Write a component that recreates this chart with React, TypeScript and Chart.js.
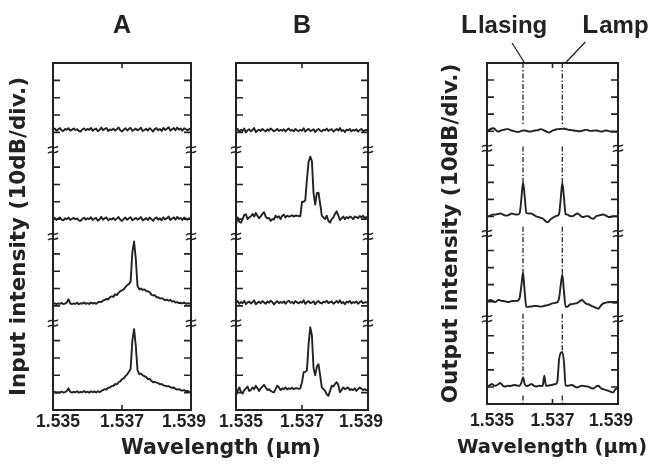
import React, { useEffect, useRef } from "react";
import { Chart, registerables } from "chart.js";

Chart.register(...registerables);

const INK = "#222222";
const TICK_FONT = "'Liberation Sans', Arial, sans-serif";
const TITLE_FONT = "'DejaVu Sans', sans-serif";

// wavelength samples (µm)
const wavelengths = [
  1.53500, 1.53505, 1.53510, 1.53515, 1.53520, 1.53525, 1.53530, 1.53535, 1.53540, 1.53545,
  1.53550, 1.53555, 1.53560, 1.53565, 1.53570, 1.53575, 1.53580, 1.53585, 1.53590, 1.53595,
  1.53600, 1.53605, 1.53610, 1.53615, 1.53620, 1.53625, 1.53630, 1.53635, 1.53640, 1.53645,
  1.53650, 1.53655, 1.53660, 1.53665, 1.53670, 1.53675, 1.53680, 1.53685, 1.53690, 1.53695,
  1.53700, 1.53705, 1.53710, 1.53715, 1.53720, 1.53725, 1.53730, 1.53735, 1.53740, 1.53745,
  1.53750, 1.53755, 1.53760, 1.53765, 1.53770, 1.53775, 1.53780, 1.53785, 1.53790, 1.53795,
  1.53800, 1.53805, 1.53810, 1.53815, 1.53820, 1.53825, 1.53830, 1.53835, 1.53840, 1.53845,
  1.53850, 1.53855, 1.53860, 1.53865, 1.53870, 1.53875, 1.53880, 1.53885, 1.53890, 1.53895,
  1.53900,
];

const xTickValues = [1.535, 1.537, 1.539];
const breakLevels = [5, 10, 15];
const stackOffsets = [15, 10, 5, 0]; // divisions (10 dB each), top trace first

// Panel A (input), divisions above each sub-panel floor
const traceA1 = [
  1.15, 1.22, 1.10, 1.18, 1.25, 1.12, 1.08, 1.20, 1.15, 1.24,
  1.10, 1.16, 1.22, 1.14, 1.18, 1.08, 1.05, 1.17, 1.23, 1.12,
  1.20, 1.15, 1.26, 1.10, 1.18, 1.22, 1.06, 1.14, 1.28, 1.12,
  1.20, 1.25, 1.08, 1.17, 1.13, 1.22, 1.10, 1.18, 1.28, 1.12,
  1.05, 1.16, 1.24, 1.11, 1.20, 1.26, 1.09, 1.15, 1.22, 1.12,
  1.18, 1.27, 1.08, 1.14, 1.21, 1.10, 1.24, 1.16, 1.05, 1.19,
  1.25, 1.12, 1.20, 1.08, 1.26, 1.14, 1.20, 1.30, 1.10, 1.18,
  1.25, 1.12, 1.28, 1.16, 1.22, 1.10, 1.24, 1.18, 1.12, 1.20,
  1.15,
];
const traceA2 = [
  1.00, 1.08, 0.95, 1.03, 1.10, 0.97, 0.93, 1.05, 1.00, 1.09,
  0.95, 1.02, 1.07, 0.99, 1.04, 0.93, 0.90, 1.02, 1.08, 0.97,
  1.05, 1.00, 1.11, 0.95, 1.03, 1.07, 0.91, 0.99, 1.13, 0.97,
  1.05, 1.10, 0.93, 1.02, 0.98, 1.07, 0.95, 1.03, 1.13, 0.97,
  0.90, 1.01, 1.09, 0.96, 1.05, 1.11, 0.94, 1.00, 1.07, 0.97,
  1.03, 1.12, 0.93, 0.99, 1.06, 0.95, 1.09, 1.01, 0.90, 1.04,
  1.10, 0.97, 1.05, 0.93, 1.11, 0.99, 1.05, 1.15, 0.95, 1.03,
  1.10, 0.97, 1.13, 1.01, 1.07, 0.95, 1.09, 1.03, 0.97, 1.05,
  1.00,
];
const traceA3 = [
  1.12, 1.15, 1.10, 1.14, 1.12, 1.17, 1.11, 1.13, 1.20, 1.38,
  1.15, 1.10, 1.14, 1.12, 1.18, 1.10, 1.15, 1.13, 1.20, 1.12,
  1.16, 1.11, 1.20, 1.13, 1.18, 1.12, 1.20, 1.24, 1.22, 1.30,
  1.35, 1.40, 1.38, 1.50, 1.55, 1.52, 1.67, 1.62, 1.75, 1.85,
  1.90, 1.95, 2.08, 2.20, 2.25, 2.40, 4.10, 4.71, 3.70, 2.15,
  1.95, 2.00, 1.92, 1.95, 1.86, 1.84, 1.80, 1.65, 1.60, 1.62,
  1.49, 1.50, 1.42, 1.45, 1.40, 1.32, 1.37, 1.30, 1.35, 1.25,
  1.28, 1.20, 1.22, 1.16, 1.18, 1.14, 1.20, 1.12, 1.15, 1.14,
  1.15,
];
const traceA4 = [
  1.02, 1.05, 0.99, 1.03, 1.00, 1.06, 1.01, 1.03, 1.10, 1.25,
  1.04, 1.00, 1.05, 1.02, 1.08, 1.00, 1.04, 1.02, 1.09, 1.01,
  1.06, 1.00, 1.08, 1.02, 1.07, 1.01, 1.08, 1.03, 1.10, 1.15,
  1.20, 1.18, 1.28, 1.30, 1.38, 1.40, 1.50, 1.48, 1.60, 1.65,
  1.78, 1.82, 1.95, 2.05, 2.20, 2.36, 4.00, 4.66, 3.70, 2.30,
  2.07, 2.10, 2.00, 1.95, 1.90, 1.78, 1.80, 1.68, 1.60, 1.62,
  1.58, 1.55, 1.48, 1.50, 1.42, 1.40, 1.36, 1.38, 1.32, 1.28,
  1.30, 1.22, 1.18, 1.20, 1.14, 1.12, 1.15, 1.09, 1.10, 1.06,
  1.05,
];

// Panel B (input)
const traceB1 = [
  1.10, 1.20, 1.05, 1.15, 1.08, 1.22, 1.00, 1.12, 1.18, 1.06,
  1.14, 1.25, 1.02, 1.10, 1.16, 1.08, 1.20, 1.12, 1.05, 1.18,
  1.10, 1.22, 1.15, 1.06, 1.12, 1.20, 1.08, 1.14, 1.10, 1.18,
  1.05, 1.16, 1.22, 1.10, 1.14, 1.06, 1.20, 1.12, 1.08, 1.15,
  1.10, 1.24, 1.05, 1.15, 1.20, 1.08, 1.12, 1.18, 1.02, 1.14,
  1.20, 1.10, 1.06, 1.16, 1.12, 1.22, 1.08, 1.15, 1.18, 1.05,
  1.12, 1.20, 1.10, 1.25, 1.08, 1.14, 1.02, 1.16, 1.12, 1.20,
  1.06, 1.15, 1.10, 1.18, 1.04, 1.14, 1.20, 1.08, 1.12, 1.15,
  1.10,
];
const traceB2 = [
  0.69, 1.10, 0.85, 0.79, 1.00, 1.25, 1.28, 1.00, 1.10, 1.17,
  1.30, 1.15, 1.36, 1.20, 1.05, 1.17, 1.30, 1.40, 1.15, 1.05,
  1.07, 0.90, 1.00, 0.98, 1.20, 1.10, 1.17, 1.00, 1.20, 1.26,
  1.10, 1.20, 1.15, 1.17, 1.22, 1.15, 1.20, 1.20, 1.18, 1.17,
  2.00, 2.00, 2.10, 3.30, 4.30, 4.60, 4.35, 2.50, 1.84, 2.50,
  2.53, 1.90, 1.20, 1.10, 1.00, 1.20, 0.90, 0.80, 1.00, 1.10,
  1.30, 1.45, 1.20, 0.95, 1.05, 1.15, 1.00, 1.12, 1.05, 1.15,
  1.10, 1.00, 1.15, 1.12, 1.05, 1.18, 1.10, 1.20, 1.05, 1.12,
  1.10,
];
const traceB3 = [
  1.20, 1.28, 1.12, 1.22, 1.15, 1.30, 1.10, 1.20, 1.25, 1.14,
  1.22, 1.32, 1.10, 1.18, 1.25, 1.15, 1.28, 1.20, 1.12, 1.26,
  1.18, 1.30, 1.22, 1.08, 1.20, 1.28, 1.15, 1.22, 1.18, 1.26,
  1.12, 1.24, 1.30, 1.18, 1.22, 1.14, 1.28, 1.20, 1.15, 1.24,
  1.18, 1.32, 1.12, 1.22, 1.28, 1.16, 1.20, 1.26, 1.10, 1.22,
  1.28, 1.18, 1.14, 1.24, 1.20, 1.30, 1.16, 1.22, 1.26, 1.12,
  1.20, 1.28, 1.18, 1.32, 1.15, 1.22, 1.10, 1.24, 1.20, 1.28,
  1.14, 1.22, 1.18, 1.26, 1.12, 1.22, 1.28, 1.16, 1.20, 1.22,
  1.18,
];
const traceB4 = [
  0.82, 1.10, 1.30, 1.05, 0.95, 1.15, 1.25, 1.35, 1.10, 1.15,
  1.30, 1.20, 1.40, 1.25, 1.10, 1.25, 1.35, 1.45, 1.30, 1.15,
  1.20, 1.10, 1.05, 1.02, 1.20, 1.40, 1.30, 1.15, 1.25, 1.20,
  1.30, 1.18, 1.25, 1.22, 1.28, 1.20, 1.25, 1.25, 1.22, 1.25,
  1.60, 2.18, 2.20, 2.30, 3.80, 4.77, 4.30, 2.40, 2.00, 2.50,
  2.64, 2.00, 1.30, 1.20, 1.10, 0.90, 0.82, 1.10, 1.40, 1.35,
  1.50, 1.60, 1.45, 1.02, 1.15, 1.30, 1.20, 1.25, 1.30, 1.15,
  1.20, 1.15, 1.25, 1.10, 1.20, 1.30, 1.22, 1.15, 1.20, 1.15,
  1.18,
];

// Panel C (output)
const traceC1 = [
  1.04, 1.06, 1.12, 1.16, 1.18, 1.10, 1.00, 0.98, 1.02, 1.06,
  1.08, 1.10, 1.12, 1.12, 1.08, 1.04, 1.02, 0.99, 0.97, 0.96,
  0.98, 1.02, 1.04, 1.04, 1.02, 1.00, 0.98, 0.98, 1.01, 1.04,
  1.04, 1.06, 1.10, 1.12, 1.09, 1.04, 1.00, 0.94, 0.92, 0.98,
  1.04, 1.06, 1.10, 1.12, 1.12, 1.13, 1.14, 1.14, 1.13, 1.11,
  1.08, 1.07, 1.05, 1.04, 1.03, 1.02, 1.00, 1.00, 1.02, 1.05,
  1.08, 1.08, 1.05, 1.02, 1.02, 1.03, 1.04, 1.04, 1.02, 0.99,
  0.98, 1.00, 1.03, 1.04, 1.02, 0.99, 0.97, 0.96, 0.96, 0.96,
  0.96,
];
const traceC2 = [
  1.00, 1.01, 1.05, 1.09, 1.11, 1.10, 1.13, 1.15, 1.17, 1.15,
  1.10, 1.06, 1.05, 1.08, 1.12, 1.17, 1.15, 1.12, 1.11, 1.12,
  1.22, 2.05, 3.00, 2.20, 1.20, 1.18, 1.17, 1.17, 1.12, 1.06,
  1.01, 0.98, 0.95, 0.91, 0.88, 0.80, 0.70, 0.66, 0.75, 0.85,
  0.91, 0.97, 1.02, 1.05, 1.15, 2.00, 2.96, 2.10, 1.15, 1.11,
  1.06, 1.02, 1.01, 1.05, 1.12, 1.17, 1.14, 1.05, 0.98, 0.97,
  1.00, 1.02, 1.01, 0.94, 0.88, 0.86, 0.95, 1.03, 1.05, 1.08,
  1.10, 1.11, 1.08, 1.03, 0.98, 0.97, 0.99, 1.01, 1.02, 1.01,
  1.01,
];
const traceC3 = [
  1.04, 1.06, 1.10, 1.08, 1.02, 0.98, 1.04, 1.10, 1.08, 1.05,
  1.04, 1.02, 1.00, 0.98, 1.00, 1.03, 1.04, 1.05, 1.04, 1.08,
  1.25, 1.95, 2.70, 1.60, 0.70, 0.68, 0.72, 0.71, 0.73, 0.75,
  0.75, 0.74, 0.72, 0.71, 0.73, 0.76, 0.78, 0.79, 0.83, 0.87,
  0.90, 0.92, 0.94, 0.97, 1.20, 1.95, 2.60, 1.60, 0.70, 0.70,
  0.78, 0.85, 0.86, 0.88, 0.90, 0.92, 0.98, 1.05, 1.10, 1.02,
  0.92, 0.86, 0.85, 0.80, 0.74, 0.71, 0.66, 0.62, 0.59, 0.70,
  0.82, 0.90, 0.93, 0.95, 0.97, 0.98, 0.97, 0.95, 0.94, 0.94,
  0.95,
];
const traceC4 = [
  0.97, 1.05, 1.12, 1.17, 1.10, 1.07, 1.10, 1.17, 1.23, 1.15,
  1.05, 1.03, 1.05, 1.07, 1.06, 1.08, 1.10, 1.11, 1.09, 1.07,
  1.08, 1.25, 1.56, 1.18, 1.05, 1.07, 1.12, 1.17, 1.12, 1.05,
  1.03, 1.05, 1.07, 1.06, 1.08, 1.66, 1.08, 1.07, 1.09, 1.11,
  1.13, 1.16, 1.17, 1.35, 2.60, 3.00, 3.06, 2.45, 1.10, 1.07,
  1.08, 1.10, 1.11, 1.06, 1.00, 0.97, 1.00, 1.05, 1.07, 1.06,
  1.04, 1.03, 1.02, 0.96, 0.92, 0.91, 0.98, 1.05, 1.07, 0.98,
  0.90, 0.87, 0.84, 0.80, 0.78, 0.74, 0.70, 0.68, 0.80, 0.91,
  0.84,
];

// marker lines in panel C (dash-dot), absolute divisions
const lasingWavelength = 1.5361;
const ampWavelength = 1.5373;
const lasingSegTop = [20, 15.1, 10.4, 5.3, 0.5];
const lasingSegBottom = [16.4, 13.0, 7.7, 1.56, 0];
const ampSegTop = [20, 15.1, 10.4, 5.3, 0.5];
const ampSegBottom = [16.4, 12.96, 7.6, 3.06, 0];

type Marker = {
  wavelength: number;
  sub: string;
  textDx: number;
  from: [number, number];
  to: [number, number];
};

const markers: Marker[] = [
  { wavelength: lasingWavelength, sub: "lasing", textDx: -62, from: [-11, -20], to: [1, -1] },
  { wavelength: ampWavelength, sub: "amp", textDx: 20, from: [23, -21], to: [4, -1] },
];

const xLabelNudge = [5, 0, -7];

type Panel = {
  traces: number[][];
  smooth: boolean;
  letter?: string;
  yTitle?: string;
  yTitlePad?: { top: number; bottom: number };
  labelDy: number;
  padding: { left: number; right: number; top: number; bottom: number };
  withMarkers?: boolean;
};

function segmentPoints(wl: number, tops: number[], bottoms: number[]) {
  const pts: { x: number; y: number | null }[] = [];
  tops.forEach((t, k) => {
    pts.push({ x: wl, y: t }, { x: wl, y: bottoms[k] }, { x: wl, y: null });
  });
  return pts;
}

function drawBreak(ctx: CanvasRenderingContext2D, cx: number, cy: number) {
  [-2.4, 2.4].forEach((dy) => {
    const y0 = cy + dy;
    ctx.beginPath();
    ctx.moveTo(cx - 5, y0 + 1.2);
    ctx.bezierCurveTo(cx - 2, y0 - 3, cx + 2, y0 + 3, cx + 5, y0 - 1.2);
    ctx.stroke();
  });
}

function decorPlugin(panel: Panel) {
  return {
    id: "decor",
    afterDatasetsDraw(chart: any) {
      const { ctx, chartArea } = chart;
      const { left, right, top, bottom } = chartArea;
      const xs = chart.scales.x;
      const ys = chart.scales.y;
      ctx.save();
      ctx.strokeStyle = INK;
      ctx.fillStyle = INK;
      ctx.lineWidth = 2;
      ctx.strokeRect(left, top, right - left, bottom - top);

      // inward division ticks
      ctx.lineWidth = 1.6;
      ctx.beginPath();
      ys.ticks.forEach((t: any) => {
        if (t.value <= ys.min || t.value >= ys.max || breakLevels.includes(t.value)) return;
        const py = ys.getPixelForValue(t.value);
        ctx.moveTo(left, py);
        ctx.lineTo(left + 7, py);
        ctx.moveTo(right, py);
        ctx.lineTo(right - 7, py);
      });
      xs.ticks.forEach((t: any) => {
        if (t.value <= xs.min || t.value >= xs.max) return;
        const px = xs.getPixelForValue(t.value);
        ctx.moveTo(px, top);
        ctx.lineTo(px, top + 5);
        ctx.moveTo(px, bottom);
        ctx.lineTo(px, bottom - 5);
      });
      ctx.stroke();

      // axis break marks
      ctx.lineWidth = 1.5;
      breakLevels.forEach((b) => {
        const py = ys.getPixelForValue(b);
        drawBreak(ctx, left, py);
        drawBreak(ctx, right, py);
      });

      // x tick labels
      ctx.font = `bold 17.5px ${TICK_FONT}`;
      ctx.textAlign = "center";
      ctx.textBaseline = "middle";
      xs.ticks.forEach((t: any, j: number) => {
        const px = xs.getPixelForValue(t.value) + (xLabelNudge[j] || 0);
        ctx.fillText(Number(t.value).toFixed(3), px, bottom + panel.labelDy);
      });

      if (panel.letter) {
        ctx.font = `bold 25px ${TICK_FONT}`;
        ctx.textAlign = "center";
        ctx.textBaseline = "alphabetic";
        ctx.fillText(panel.letter, (left + right) / 2, top - 30);
      }

      if (panel.withMarkers) {
        markers.forEach((m) => {
          const px = xs.getPixelForValue(m.wavelength);
          ctx.lineWidth = 1.3;
          ctx.beginPath();
          ctx.moveTo(px + m.from[0], top + m.from[1]);
          ctx.lineTo(px + m.to[0], top + m.to[1]);
          ctx.stroke();
          ctx.textAlign = "left";
          ctx.textBaseline = "alphabetic";
          ctx.font = `bold 26px ${TICK_FONT}`;
          const lx = px + m.textDx;
          ctx.fillText("L", lx, top - 30);
          const lw = ctx.measureText("L").width;
          ctx.font = `bold 24px ${TICK_FONT}`;
          ctx.fillText(m.sub, lx + lw + 1, top - 30);
        });
      }
      ctx.restore();
    },
  };
}

function makeConfig(panel: Panel): any {
  const datasets: any[] = panel.traces.map((vals, k) => ({
    data: vals.map((v, i) => ({ x: wavelengths[i], y: v + stackOffsets[k] })),
    borderColor: INK,
    borderWidth: 1.9,
    pointRadius: 0,
    tension: panel.smooth ? 0.4 : 0,
    cubicInterpolationMode: panel.smooth ? "monotone" : "default",
    borderJoinStyle: "round",
    borderCapStyle: "round",
    fill: false,
  }));
  if (panel.withMarkers) {
    [
      segmentPoints(lasingWavelength, lasingSegTop, lasingSegBottom),
      segmentPoints(ampWavelength, ampSegTop, ampSegBottom),
    ].forEach((pts) =>
      datasets.push({
        data: pts,
        borderColor: "#333333",
        borderWidth: 1.4,
        borderDash: [5, 2, 1.5, 2],
        pointRadius: 0,
        spanGaps: false,
        fill: false,
      })
    );
  }
  return {
    type: "line",
    data: { datasets },
    options: {
      animation: false,
      responsive: false,
      devicePixelRatio: 1,
      events: [],
      layout: { padding: panel.padding },
      plugins: {
        legend: { display: false },
        tooltip: { enabled: false },
        title: { display: false },
      },
      scales: {
        x: {
          type: "linear",
          min: 1.535,
          max: 1.539,
          grid: { display: false, drawTicks: false },
          border: { display: false },
          afterBuildTicks: (s: any) => {
            s.ticks = xTickValues.map((v) => ({ value: v }));
          },
          ticks: { display: false },
          title: { display: false },
        },
        y: {
          type: "linear",
          min: 0,
          max: 20,
          display: !!panel.yTitle,
          grid: { display: false, drawTicks: false },
          border: { display: false },
          ticks: { display: false, stepSize: 1 },
          title: panel.yTitle
            ? {
                display: true,
                text: panel.yTitle,
                color: INK,
                padding: panel.yTitlePad,
                font: { family: TITLE_FONT, size: 21.5, weight: "bold", lineHeight: 1.2 },
              }
            : { display: false },
        },
      },
    },
    plugins: [decorPlugin(panel)],
  };
}

const panels: Panel[] = [
  {
    traces: [traceA1, traceA2, traceA3, traceA4],
    smooth: false,
    letter: "A",
    yTitle: "Input intensity (10dB/div.)",
    yTitlePad: { top: 6.1, bottom: 21.1 },
    labelDy: 12.5,
    padding: { left: 0, right: 459, top: 63, bottom: 60 },
  },
  {
    traces: [traceB1, traceB2, traceB3, traceB4],
    smooth: false,
    letter: "B",
    labelDy: 12.5,
    padding: { left: 236, right: 282, top: 63, bottom: 60 },
  },
  {
    traces: [traceC1, traceC2, traceC3, traceC4],
    smooth: true,
    yTitle: "Output intensity (10dB/div.)",
    yTitlePad: { top: 0, bottom: 23.1 },
    labelDy: 17.5,
    padding: { left: 438.1, right: 32, top: 63, bottom: 66 },
    withMarkers: true,
  },
];

function PanelChart({ panel }: { panel: Panel }) {
  const ref = useRef<HTMLCanvasElement>(null);
  useEffect(() => {
    const chart = new Chart(ref.current as HTMLCanvasElement, makeConfig(panel));
    return () => chart.destroy();
  }, [panel]);
  return (
    <canvas
      ref={ref}
      width={650}
      height={470}
      style={{ position: "absolute", left: 0, top: 0, width: 650, height: 470 }}
    />
  );
}

const titleStyle = (centerX: number, width: number, size: number): React.CSSProperties => ({
  position: "absolute",
  left: centerX - width / 2,
  top: 435,
  width,
  textAlign: "center",
  font: `bold ${size}px ${TITLE_FONT}`,
  lineHeight: "24px",
  color: INK,
  whiteSpace: "nowrap",
});

export default function App() {
  return (
    <div
      style={{
        position: "absolute",
        left: 0,
        top: 0,
        width: 650,
        height: 470,
        background: "#ffffff",
        overflow: "hidden",
      }}
    >
      {panels.map((p, i) => (
        <PanelChart key={i} panel={p} />
      ))}
      <div style={titleStyle(221, 300, 20.5)}>Wavelength (µm)</div>
      <div style={titleStyle(552, 200, 19.5)}>Wavelength (µm)</div>
    </div>
  );
}
